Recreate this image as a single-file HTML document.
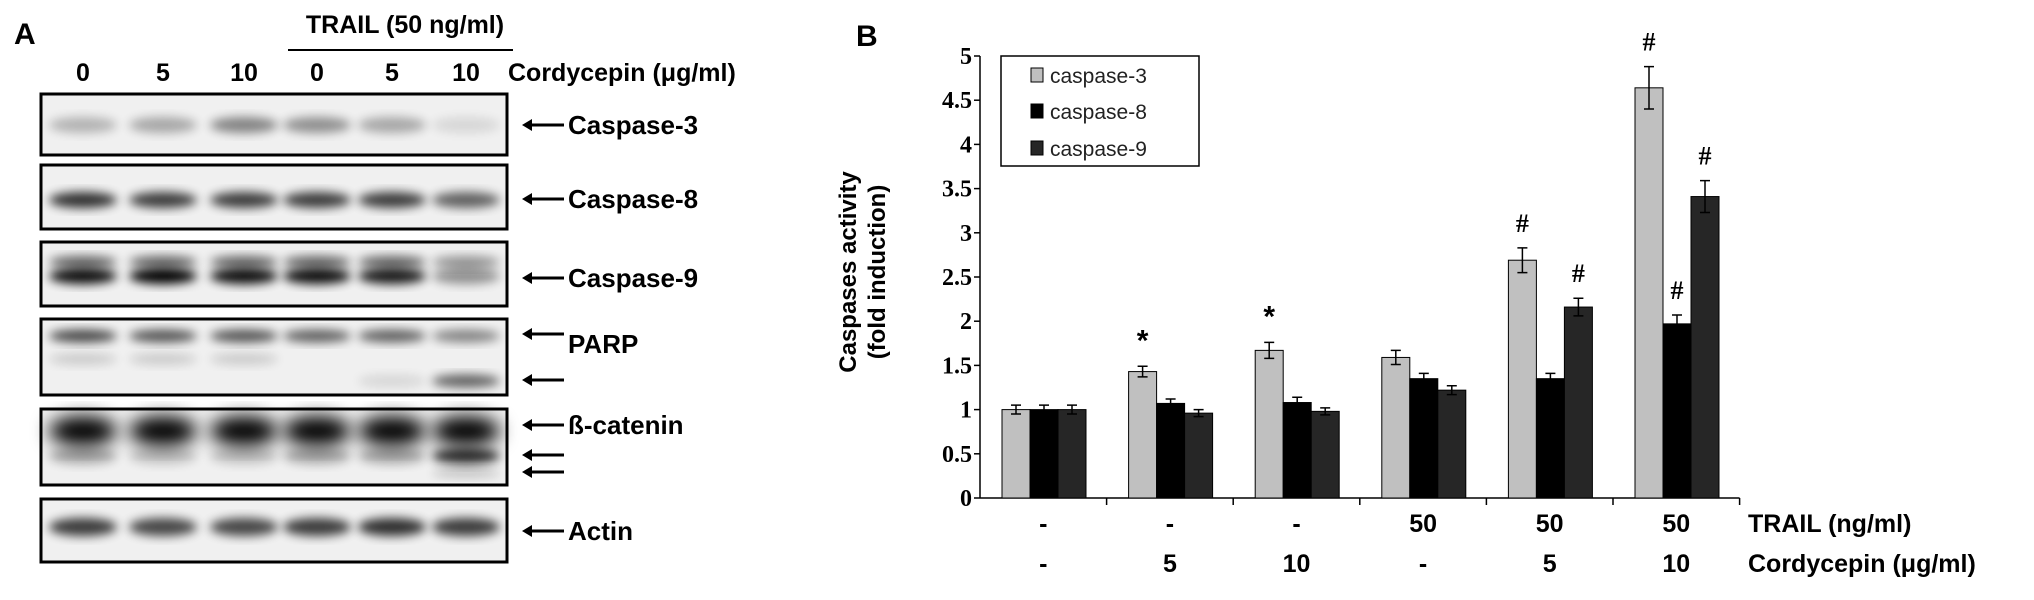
<!DOCTYPE html>
<html><head><meta charset="utf-8"><style>
body{margin:0;background:#fff;}
svg{display:block;}
.s{font-family:"Liberation Sans Narrow","Liberation Sans",sans-serif;font-weight:bold;}
.t{font-family:"Liberation Serif",serif;font-weight:bold;}
</style></head><body>
<svg id="fig" width="2034" height="600" viewBox="0 0 2034 600" xmlns="http://www.w3.org/2000/svg">
<defs>
<filter id="b1" x="-50%" y="-50%" width="200%" height="200%"><feGaussianBlur stdDeviation="5"/></filter>
<filter id="b2" x="-50%" y="-50%" width="200%" height="200%"><feGaussianBlur stdDeviation="9"/></filter>
</defs>
<g id="panelA"></g>
<g id="panelB"></g>
</svg>
<script>
const NS="http://www.w3.org/2000/svg";
function mk(p,tag,at,txt){const e=document.createElementNS(NS,tag);for(const k in at)e.setAttribute(k,at[k]);if(txt!==undefined)e.textContent=txt;p.appendChild(e);return e;}
const A=document.getElementById('panelA');
let e;
e=mk(A,'text',{x:14,y:44,class:'s','font-size':30},'A');


e=mk(A,'text',{x:405,y:33,class:'s','font-size':25,'text-anchor':'middle'},'TRAIL (50 ng/ml)');


mk(A,'line',{x1:288,y1:50,x2:513,y2:50,stroke:'#000','stroke-width':2});
const lanes=["0","5","10","0","5","10"];
const laneX=[83,163,244,317,392,466];
lanes.forEach((l,i)=>{e=mk(A,'text',{x:laneX[i],y:81,class:'s','font-size':25,'text-anchor':'middle'},l);

});
e=mk(A,'text',{x:508,y:81,class:'s','font-size':25},'Cordycepin (μg/ml)');


// blots: [top,bottom,label,labelY, bands:[yOffset, intensities, height]]
const blots=[
 {y0:94,y1:155,name:'caspase-3-blot',bands:[[31,[.25,.3,.45,.4,.3,.1],12]]},
 {y0:165,y1:229,name:'caspase-8-blot',bands:[[35,[.8,.75,.75,.75,.75,.6],12]]},
 {y0:242,y1:306,name:'caspase-9-blot',bands:[[20,[.6,.6,.6,.6,.6,.4],8],[34,[.95,1,.95,.95,.9,.4],12]]},
 {y0:319,y1:395,name:'parp-blot',bands:[[17,[.7,.65,.65,.6,.6,.45],9],[40,[.15,.15,.15,0,0,0],8],[62,[0,0,0,0,.1,.6],9]]},
 {y0:409,y1:485,name:'beta-catenin-blot',bands:[[22,[1,1,1,1,1,1],26],[47,[.3,.2,.2,.3,.3,.8],12],[64,[0,0,0,0,0,.2],5]]},
 {y0:499,y1:562,name:'actin-blot',bands:[[28,[.75,.7,.7,.75,.8,.75],14]]}
];
blots.forEach(b=>{
 const g=mk(A,'g',{});
 
 
 mk(g,'rect',{x:40,y:b.y0,width:468,height:b.y1-b.y0,fill:'#f0f0f0'});
 const cg=mk(g,'g',{});
 b.bands.forEach(bd=>{bd[1].forEach((v,i)=>{if(v>0)mk(cg,'ellipse',{cx:laneX[i],cy:b.y0+bd[0],rx:34,ry:bd[2]/2+2,fill:'#000',opacity:v,filter:bd[2]>20?'url(#b2)':'url(#b1)'});});});
 mk(g,'rect',{x:41,y:b.y0,width:466,height:b.y1-b.y0,fill:'none',stroke:'#000','stroke-width':3});
});
const labs=[['Caspase-3',125,[125]],['Caspase-8',199,[199]],['Caspase-9',278,[278]],['PARP',344,[334,380]],['ß-catenin',425,[425,455,472]],['Actin',531,[531]]];
labs.forEach(l=>{
 l[2].forEach(y=>{mk(A,'line',{x1:525,y1:y,x2:564,y2:y,stroke:'#000','stroke-width':3});mk(A,'path',{d:`M522 ${y} l10 -6 l0 12 z`,fill:'#000'});});
 e=mk(A,'text',{x:568,y:l[1]+9,class:'s','font-size':26},l[0]);
 
 
});

// ---------- Panel B chart ----------
const categories=["ctrl","C5","C10","T50","T50+C5","T50+C10"];
const trailLabels=["-","-","-","50","50","50"];
const cordLabels=["-","5","10","-","5","10"];
const casp3=[1.0,1.43,1.67,1.59,2.69,4.64];
const casp8=[1.0,1.07,1.08,1.35,1.35,1.97];
const casp9=[1.0,0.96,0.98,1.22,2.16,3.41];
const err3=[0.05,0.06,0.09,0.08,0.14,0.24];
const err8=[0.05,0.05,0.06,0.06,0.06,0.1];
const err9=[0.05,0.04,0.04,0.05,0.1,0.18];
const marks3=["","*","*","","#","#"];
const marks8=["","","","","","#"];
const marks9=["","","","","#","#"];
const yTicks=[0,0.5,1,1.5,2,2.5,3,3.5,4,4.5,5];
const seriesNames=["caspase-3","caspase-8","caspase-9"];

const B=document.getElementById('panelB');
const X0=980,GW=126.6,Y0=498,YS=88.4,BW=28,PAD=22;
const yPix=v=>Y0-v*YS;
const gx=i=>X0+i*GW;
e=mk(B,'text',{x:856,y:46,class:'s','font-size':30},'B');


const yt=mk(B,'text',{class:'s','font-size':24,'text-anchor':'middle',transform:'translate(0,0)'});


yt.setAttribute('transform','translate(856,272) rotate(-90)');
mk(yt,'tspan',{x:0,y:0},'Caspases activity');
mk(yt,'tspan',{x:0,y:29},'(fold induction)');
// axes
e=mk(B,'line',{x1:X0,y1:yPix(5),x2:X0,y2:Y0,stroke:'#000','stroke-width':1.5});


e=mk(B,'line',{x1:X0,y1:Y0,x2:gx(categories.length),y2:Y0,stroke:'#000','stroke-width':1.5});


yTicks.forEach(t=>{
 mk(B,'line',{x1:X0-6,y1:yPix(t),x2:X0,y2:yPix(t),stroke:'#000','stroke-width':1.5});
 e=mk(B,'text',{x:X0-8,y:yPix(t)+8,class:'t','font-size':24,'text-anchor':'end'},String(t));
 
 
});
for(let i=1;i<=categories.length;i++)mk(B,'line',{x1:gx(i),y1:Y0,x2:gx(i),y2:Y0+7,stroke:'#000','stroke-width':1.5});
const series=[[casp3,err3,marks3,'#c0c0c0'],[casp8,err8,marks8,'#000'],[casp9,err9,marks9,'#262626']];
categories.forEach((c,i)=>{
 series.forEach((s,k)=>{
  const v=s[0][i],er=s[1][i];
  const x=gx(i)+PAD+k*BW;
  const r=mk(B,'rect',{x:x,y:yPix(v),width:BW,height:v*YS,fill:s[3],stroke:'#000','stroke-width':1});
  
  
  const cx=x+BW/2;
  mk(B,'path',{d:`M${cx} ${yPix(v+er)}V${yPix(v-er)}M${cx-5} ${yPix(v+er)}h10M${cx-5} ${yPix(v-er)}h10`,stroke:'#000','stroke-width':1.5,fill:'none'});
  const m=s[2][i];
  if(m){e=mk(B,'text',{x:cx,y:yPix(v+er)-16,class:m==='#'?'t':'s','font-size':m==='#'?26:30,'text-anchor':'middle'},m);
   
   }
 });
 e=mk(B,'text',{x:gx(i)+GW/2,y:532,class:'s','font-size':25,'text-anchor':'middle'},trailLabels[i]);
 
 
 e=mk(B,'text',{x:gx(i)+GW/2,y:572,class:'s','font-size':25,'text-anchor':'middle'},cordLabels[i]);
 
 
});
e=mk(B,'text',{x:1748,y:532,class:'s','font-size':25},'TRAIL (ng/ml)');


e=mk(B,'text',{x:1748,y:572,class:'s','font-size':25},'Cordycepin (μg/ml)');


// legend
const L=mk(B,'g',{});


mk(L,'rect',{x:1001,y:56,width:198,height:110,fill:'#fff',stroke:'#000','stroke-width':1.5});
const legY=[75,111,148];
seriesNames.forEach((n,k)=>{
 const g=mk(L,'g',{});
 
 
 mk(g,'rect',{x:1031,y:legY[k]-7,width:12,height:14,fill:series[k][3],stroke:'#000','stroke-width':1});
 mk(g,'text',{x:1050,y:legY[k]+8,'font-family':'"Liberation Sans",sans-serif','font-size':21,fill:'#222'},n);
});
</script>
</body></html>
